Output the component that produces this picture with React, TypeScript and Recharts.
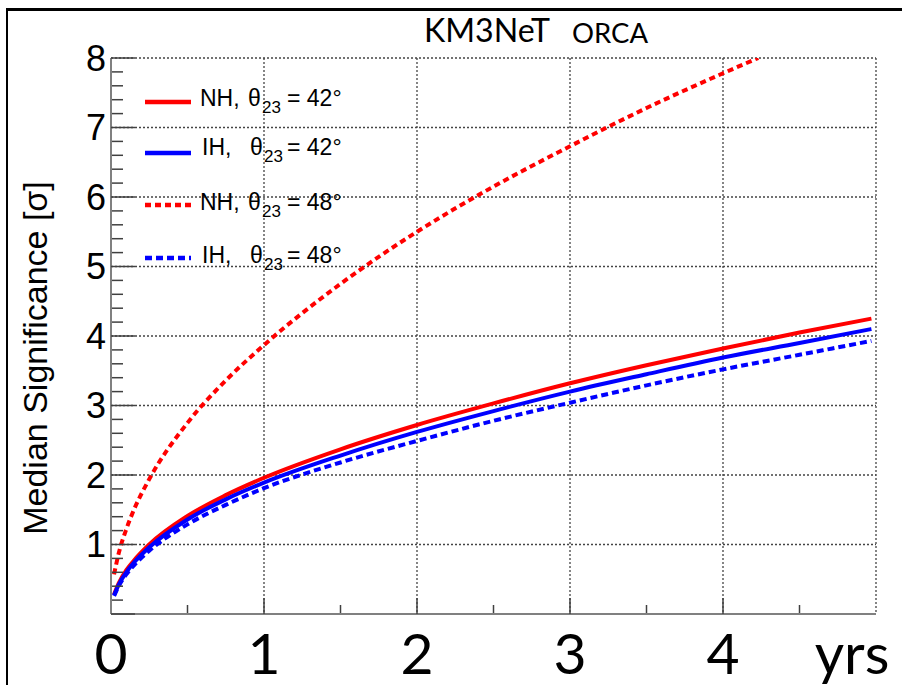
import React from 'react';
import { LineChart, Line, XAxis, YAxis, CartesianGrid, Legend } from 'recharts';

// ---- data ----
const years = [0.02, 0.05, 0.1, 0.15, 0.25, 0.5, 0.75, 1, 1.5, 2, 2.5, 3, 3.5, 4, 4.5, 4.97];
const nh42 = [0.28, 0.44, 0.63, 0.77, 1.0, 1.41, 1.71, 1.96, 2.37, 2.72, 3.03, 3.32, 3.58, 3.82, 4.05, 4.25];
const ih42 = [0.27, 0.42, 0.6, 0.74, 0.96, 1.36, 1.65, 1.89, 2.28, 2.62, 2.92, 3.2, 3.45, 3.69, 3.9, 4.1];
const ih48 = [0.26, 0.4, 0.57, 0.7, 0.91, 1.29, 1.57, 1.81, 2.18, 2.49, 2.78, 3.04, 3.29, 3.52, 3.73, 3.93];
const yearsNh48 = [0.02, 0.05, 0.1, 0.15, 0.25, 0.5, 0.75, 1, 1.5, 2, 2.5, 3, 3.5, 4, 4.23];
const nh48 = [0.57, 0.87, 1.22, 1.5, 1.94, 2.75, 3.36, 3.87, 4.75, 5.5, 6.15, 6.73, 7.28, 7.78, 8.0];

const xTicks = [0, 1, 2, 3, 4, 5];
const xTickLabels = ['0', '1', '2', '3', '4', 'yrs'];
const xMinorTicks = [0.5, 1.5, 2.5, 3.5, 4.5];
const xMajorInner = [1, 2, 3, 4];
const yTicks = [0, 1, 2, 3, 4, 5, 6, 7, 8];
const yTickLabels = ['', '1', '2', '3', '4', '5', '6', '7', '8'];
const yMinorSteps = [0.2, 0.4, 0.6, 0.8];
const yMinorTicks = yTicks.slice(0, -1).flatMap((v) => yMinorSteps.map((f) => Math.round((v + f) * 10) / 10));

const seriesHierarchy = ['NH', 'IH', 'NH', 'IH'];
const seriesTheta = ['42', '42', '48', '48'];
const titleMain = 'KM3NeT';
const titleSub = 'ORCA';
const yTitle = 'Median Significance [σ]';

const toPoints = (xs: number[], ys: number[]) => xs.map((x, i) => ({ x, y: ys[i] }));

const RED = '#ff0000';
const BLUE = '#0000ff';
const FRAME = '#808080';
const TICK = '#404040';
const ARIAL = '"Liberation Sans", Arial, sans-serif';
const NARROW = 'Lato, "Liberation Sans", sans-serif';

const seriesStyle = [
  { color: RED, dash: undefined },
  { color: BLUE, dash: undefined },
  { color: RED, dash: '6 4' },
  { color: BLUE, dash: '7 4' },
];

const EmptyTick = () => <g />;

const XTick = (props: any) => {
  const { x, y, payload } = props;
  const idx = xTicks.indexOf(payload.value);
  const label = xTickLabels[idx] ?? '';
  const isUnit = label === 'yrs';
  return (
    <text x={x + (isUnit ? -24 : 0)} y={y + 60} textAnchor="middle" fontFamily={NARROW} fontSize={57} fill="#000">
      {label}
    </text>
  );
};

const YTick = (props: any) => {
  const { x, y, payload } = props;
  const idx = yTicks.indexOf(payload.value);
  const label = yTickLabels[idx] ?? '';
  if (!label) return <g />;
  return (
    <text x={x - 5} y={y} dy="0.36em" textAnchor="end" fontFamily={ARIAL} fontSize={36} fill="#000">
      {label}
    </text>
  );
};

const YTitle = (props: any) => {
  const vb = props.viewBox || { x: 0, y: 58, width: 111, height: 556 };
  const cx = vb.x + 47;
  const cy = vb.y + vb.height / 2 + 22;
  return (
    <text x={cx} y={cy} transform={`rotate(-90, ${cx}, ${cy})`} textAnchor="middle" fontFamily={ARIAL} fontSize={34} fill="#000">
      {yTitle}
    </text>
  );
};

const LegendBox = () => {
  const lineYs = [102, 153, 205, 258];
  const baseYs = [106, 155, 210, 263];
  return (
    <svg width={902} height={300} style={{ overflow: 'visible', display: 'block' }}>
      <text x={424} y={42} fontFamily={NARROW} fontSize={32} fill="#000" textLength={126} lengthAdjust="spacingAndGlyphs">
        {titleMain}
      </text>
      <text x={572} y={43} fontFamily={NARROW} fontSize={26} fill="#000" textLength={76} lengthAdjust="spacingAndGlyphs">
        {titleSub}
      </text>
      {seriesHierarchy.map((h, i) => (
        <g key={i}>
          <line x1={145} x2={191} y1={lineYs[i]} y2={lineYs[i]} stroke={seriesStyle[i].color} strokeWidth={4.5} strokeDasharray={seriesStyle[i].dash} />
          <text x={h === 'NH' ? 200 : 202} y={baseYs[i]} fontFamily={ARIAL} fontSize={23} fill="#000">
            {h + ','}
          </text>
          <text x={h === 'NH' ? 248 : 250} y={baseYs[i]} fontFamily={ARIAL} fontSize={23} fill="#000">
            θ
          </text>
          <text x={h === 'NH' ? 262 : 264} y={baseYs[i] + 7} fontFamily={ARIAL} fontSize={17} fill="#000">
            23
          </text>
          <text x={287} y={baseYs[i]} fontFamily={ARIAL} fontSize={23} fill="#000">
            {'= ' + seriesTheta[i] + '°'}
          </text>
        </g>
      ))}
    </svg>
  );
};

export default function App() {
  const seriesData = [toPoints(years, nh42), toPoints(years, ih42), toPoints(yearsNh48, nh48), toPoints(years, ih48)];
  return (
    <div style={{ position: 'absolute', left: 0, top: 0, width: 902, height: 685, background: '#fff', overflow: 'hidden' }}>
      <div
        style={{
          position: 'absolute',
          left: 6,
          top: 8,
          width: 902,
          height: 690,
          borderLeft: '2px solid #000',
          borderTop: '3px solid #000',
          boxSizing: 'border-box',
        }}
      />
      <div style={{ position: 'absolute', left: 0, top: 0 }}>
        <LineChart width={902} height={685} margin={{ top: 58, right: 26, left: 0, bottom: 0 }}>
          <CartesianGrid xAxisId="main" yAxisId="main" stroke="#444" strokeWidth={1.3} strokeDasharray="2 2" fill="none" />
          <XAxis
            xAxisId="main"
            dataKey="x"
            type="number"
            domain={[0, 5]}
            allowDataOverflow
            ticks={xTicks}
            interval={0}
            height={71}
            tickLine={false}
            tickSize={0}
            tickMargin={0}
            axisLine={{ stroke: FRAME, strokeWidth: 2 }}
            tick={<XTick />}
          />
          <XAxis
            xAxisId="minor"
            dataKey="x"
            type="number"
            domain={[0, 5]}
            allowDataOverflow
            ticks={xMinorTicks}
            interval={0}
            height={1}
            mirror
            axisLine={false}
            tickSize={8}
            tickMargin={0}
            tickLine={{ stroke: TICK, strokeWidth: 1.5 }}
            tick={<EmptyTick />}
          />
          <XAxis
            xAxisId="majorIn"
            dataKey="x"
            type="number"
            domain={[0, 5]}
            allowDataOverflow
            ticks={xMajorInner}
            interval={0}
            height={1}
            mirror
            axisLine={false}
            tickSize={16}
            tickMargin={0}
            tickLine={{ stroke: TICK, strokeWidth: 1.5 }}
            tick={<EmptyTick />}
          />
          <XAxis
            xAxisId="top"
            orientation="top"
            dataKey="x"
            type="number"
            domain={[0, 5]}
            allowDataOverflow
            height={0}
            tick={false}
            tickLine={false}
            axisLine={{ stroke: FRAME, strokeWidth: 2 }}
          />
          <YAxis
            yAxisId="main"
            type="number"
            domain={[0, 8]}
            allowDataOverflow
            ticks={yTicks}
            interval={0}
            width={111}
            tickLine={false}
            tickSize={0}
            tickMargin={0}
            axisLine={{ stroke: FRAME, strokeWidth: 2 }}
            tick={<YTick />}
            label={<YTitle />}
          />
          <YAxis
            yAxisId="minor"
            type="number"
            domain={[0, 8]}
            allowDataOverflow
            ticks={yMinorTicks}
            interval={0}
            width={1}
            mirror
            axisLine={false}
            tickSize={11}
            tickMargin={0}
            tickLine={{ stroke: TICK, strokeWidth: 1.5 }}
            tick={<EmptyTick />}
          />
          <YAxis
            yAxisId="majorIn"
            type="number"
            domain={[0, 8]}
            allowDataOverflow
            ticks={yTicks}
            interval={0}
            width={1}
            mirror
            axisLine={false}
            tickSize={24}
            tickMargin={0}
            tickLine={{ stroke: TICK, strokeWidth: 1.5 }}
            tick={<EmptyTick />}
          />
          <YAxis
            yAxisId="right"
            orientation="right"
            type="number"
            domain={[0, 8]}
            allowDataOverflow
            width={0}
            tick={false}
            tickLine={false}
            axisLine={{ stroke: FRAME, strokeWidth: 2 }}
          />
          {seriesData.map((d, i) => (
            <Line
              key={i}
              xAxisId="main"
              yAxisId="main"
              data={d}
              dataKey="y"
              type="monotone"
              stroke={seriesStyle[i].color}
              strokeWidth={4}
              strokeDasharray={seriesStyle[i].dash}
              dot={false}
              activeDot={false}
              isAnimationActive={false}
              name={`${seriesHierarchy[i]} ${seriesTheta[i]}`}
            />
          ))}
          <Legend
            layout="vertical"
            align="center"
            verticalAlign="middle"
            wrapperStyle={{ left: 0, top: 0, width: 902, height: 300, pointerEvents: 'none' }}
            content={<LegendBox />}
          />
        </LineChart>
      </div>
    </div>
  );
}
